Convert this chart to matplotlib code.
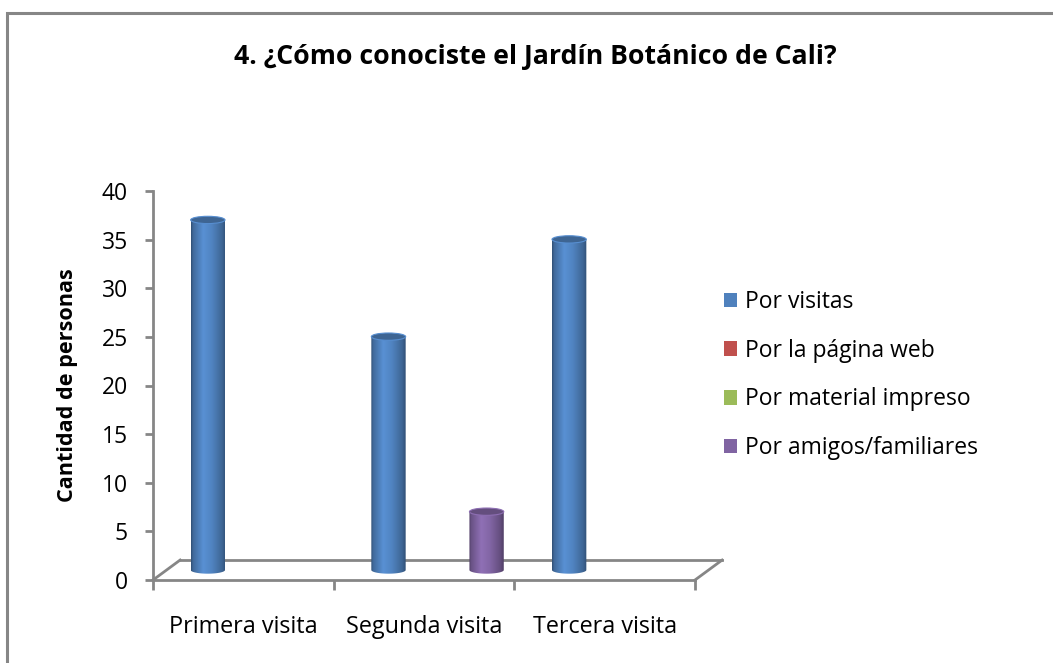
import matplotlib
matplotlib.use('Agg')
import matplotlib.pyplot as plt
import numpy as np
from matplotlib.patches import Ellipse, PathPatch, Rectangle, Patch
from matplotlib.path import Path
from matplotlib.colors import to_rgb

plt.rcParams['font.family'] = ['Open Sans', 'DejaVu Sans']

title = '4. ¿Cómo conociste el Jardín Botánico de Cali?'
categories = ['Primera visita', 'Segunda visita', 'Tercera visita']
series_names = ['Por visitas', 'Por la página web', 'Por material impreso', 'Por amigos/familiares']
series_colors = ['#4F81BD', '#C0504D', '#9BBB59', '#8064A2']
# values per series, one per category
por_visitas = [36, 24, 34]
por_pagina_web = [0, 0, 0]
por_material = [0, 0, 0]
por_amigos = [0, 6, 0]
values = [por_visitas, por_pagina_web, por_material, por_amigos]

# 3d look, in data units
depth_dx, depth_dy = 0.15, 2.05
bar_w = 0.19
ell_h = 0.75
step = 0.181
axis_col = '#868686'


def shade(color, f):
    r, g, b = to_rgb(color)
    return tuple(min(1, c * f) for c in (r, g, b))


def cylinder(ax, xc, val, color):
    if val <= 0:
        return
    y0 = depth_dy / 2
    y1 = y0 + val
    x0, x1 = xc - bar_w / 2, xc + bar_w / 2
    t = np.linspace(np.pi, 2 * np.pi, 40)
    bx = xc + bar_w / 2 * np.cos(t)
    by = y0 + ell_h / 2 * np.sin(t)
    verts = list(zip(bx, by)) + [(x1, y1), (x0, y1), (bx[0], by[0])]
    codes = [Path.MOVETO] + [Path.LINETO] * (len(verts) - 2) + [Path.CLOSEPOLY]
    body = PathPatch(Path(verts, codes), facecolor='none', edgecolor='none')
    ax.add_patch(body)
    pos = [0, 0.06, 0.35, 0.6, 0.9, 1.0]
    fac = [0.62, 0.82, 1.12, 1.02, 0.78, 0.62]
    xs = np.linspace(0, 1, 100)
    f = np.interp(xs, pos, fac)
    grad = np.array([[shade(color, v) for v in f]])
    im = ax.imshow(grad, extent=[x0, x1, y0 - ell_h, y1], aspect='auto',
                   interpolation='bilinear', zorder=3)
    im.set_clip_path(body)
    top = Ellipse((xc, y1), bar_w, ell_h, facecolor=shade(color, 0.78),
                  edgecolor=shade(color, 1.1), lw=0.8, zorder=4)
    ax.add_patch(top)


fig = plt.figure(figsize=(10.53, 6.63), dpi=100)
ax = fig.add_axes([153 / 1053, 83 / 663, 542 / 1053, 389 / 663])

# chart border
fig.patches.append(Rectangle((7 / 1053, -0.1), 1.2, 1.1 - 13 / 663,
                             transform=fig.transFigure, fill=False,
                             edgecolor=axis_col, lw=2.2))

n = len(categories)
for k, vals in enumerate(values):
    for i, v in enumerate(vals):
        xc = i + 0.5 + (k - 1.5) * step + depth_dx / 2
        cylinder(ax, xc, v, series_colors[k])

# floor
ax.plot([depth_dx, n + depth_dx], [depth_dy, depth_dy], color=axis_col, lw=2, clip_on=False, zorder=1)
ax.plot([0, depth_dx], [0, depth_dy], color=axis_col, lw=2, clip_on=False, zorder=1)
ax.plot([n, n + depth_dx], [0, depth_dy], color=axis_col, lw=2, clip_on=False, zorder=1)

ax.set_xlim(0, n)
ax.set_ylim(0, 40)
for s in ['top', 'right']:
    ax.spines[s].set_visible(False)
for s in ['left', 'bottom']:
    ax.spines[s].set_color(axis_col)
    ax.spines[s].set_linewidth(2)
ax.set_yticks(np.arange(0, 41, 5))
ax.set_xticks(np.arange(0, n + 1))
ax.set_xticklabels([])
ax.set_xticks(np.arange(n) + 0.5, minor=True)
ax.set_xticklabels(categories, minor=True)
ax.tick_params(axis='x', which='major', length=7, width=2, color=axis_col, direction='out')
ax.tick_params(axis='x', which='minor', length=0, pad=25, labelsize=16.8)
ax.tick_params(axis='y', length=6, width=2, color=axis_col, pad=12, labelsize=16.5)
ax.set_ylabel('Cantidad de personas', fontsize=15.6, fontweight='bold', labelpad=17)
ax.patch.set_alpha(0)

fig.text(535 / 1053, 1 - 57 / 663, title, ha='center', va='center', fontsize=19.2, fontweight='bold')

handles = [Patch(facecolor=c, edgecolor='none') for c in series_colors]
fig.legend(handles, series_names, loc='center left', bbox_to_anchor=(703 / 1053, 1 - 375 / 663),
           frameon=False, fontsize=16.5, handlelength=0.6, handleheight=0.6,
           handletextpad=0.35, labelspacing=1.08)

fig.savefig('out.png', dpi=100)
